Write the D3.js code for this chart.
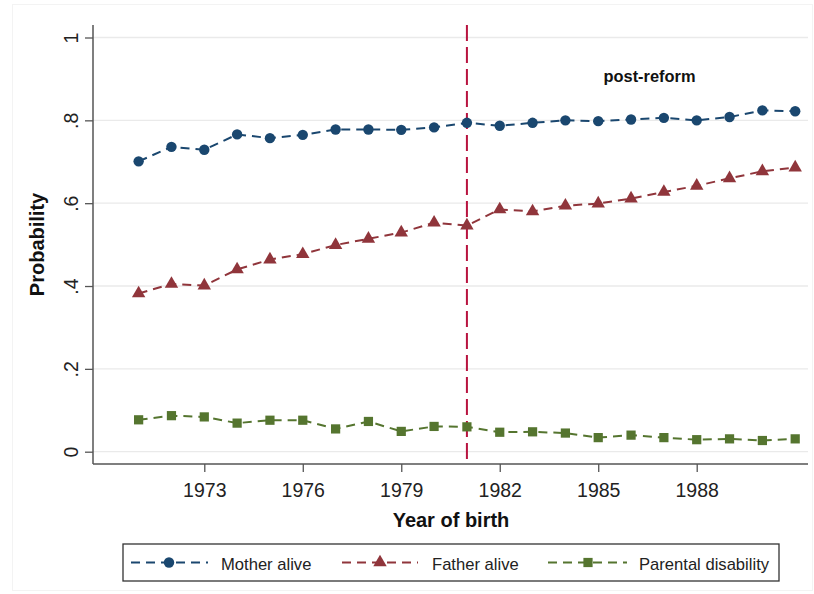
<!DOCTYPE html>
<html>
<head>
<meta charset="utf-8">
<script src="https://cdn.jsdelivr.net/npm/d3@7"></script>
<style>
  html, body { margin: 0; padding: 0; background: #fff; }
  svg { display: block; font-family: "Liberation Sans", Arial, sans-serif; }
</style>
</head>
<body>
<svg id="chart" width="814" height="594"></svg>
<script>
// ---- data ----
const years = [1971,1972,1973,1974,1975,1976,1977,1978,1979,1980,1981,1982,1983,1984,1985,1986,1987,1988,1989,1990,1991];
const motherAlive = [0.701,0.736,0.729,0.766,0.757,0.765,0.778,0.778,0.777,0.783,0.794,0.787,0.794,0.800,0.798,0.802,0.806,0.800,0.808,0.824,0.822];
const fatherAlive = [0.382,0.405,0.401,0.440,0.464,0.477,0.499,0.514,0.529,0.553,0.546,0.585,0.580,0.594,0.599,0.611,0.627,0.642,0.660,0.677,0.686];
const parentalDisability = [0.077,0.087,0.084,0.069,0.076,0.076,0.055,0.073,0.049,0.061,0.060,0.047,0.048,0.045,0.034,0.040,0.034,0.029,0.031,0.027,0.031];
const seriesNames = ["Mother alive","Father alive","Parental disability"];
const xTicks = [1973,1976,1979,1982,1985,1988];
const yTicks = [0,0.2,0.4,0.6,0.8,1];
const yTickLabels = ["0",".2",".4",".6",".8","1"];
const reformYear = 1981;
const annotation = "post-reform";
const xTitle = "Year of birth";
const yTitle = "Probability";

// ---- layout ----
const svg = d3.select("#chart");
const plot = {left: 93, right: 808, top: 25, bottom: 464};
const x = d3.scaleLinear().domain([1969.61, 1991.39]).range([plot.left, plot.right]);
const y = d3.scaleLinear().domain([0, 1]).range([451.7, 37.5]);

const colors = ["#1a476f", "#90353b", "#55752f"];
const symbols = [d3.symbolCircle, d3.symbolTriangle, d3.symbolSquare];
const symSizes = [85, 78, 85];
const dash = "9,6";

// outer faint frame
svg.append("rect").attr("x", 12.5).attr("y", 4.5).attr("width", 800).attr("height", 586)
  .attr("fill", "none").attr("stroke", "#f3f3f3").attr("stroke-width", 1);

// gridlines
svg.append("g").selectAll("line").data(yTicks).join("line")
  .attr("x1", plot.left).attr("x2", plot.right)
  .attr("y1", d => y(d)).attr("y2", d => y(d))
  .attr("stroke", "#eaeaea").attr("stroke-width", 1.3);

// y axis
const yAxis = svg.append("g").attr("transform", `translate(${plot.left},0)`)
  .call(d3.axisLeft(y).tickValues(yTicks).tickFormat((d, i) => yTickLabels[i]).tickSize(8).tickSizeOuter(0));
yAxis.select(".domain").attr("d", `M0,${plot.top}V${plot.bottom}`).attr("stroke", "#555").attr("stroke-width", 1.5);
yAxis.selectAll(".tick line").attr("stroke", "#555").attr("stroke-width", 1.3);
yAxis.selectAll(".tick text")
  .attr("x", null).attr("dy", null)
  .attr("transform", "translate(-15,0) rotate(-90)")
  .attr("text-anchor", "middle")
  .attr("font-size", 19.5).attr("fill", "#222").attr("font-family", "Liberation Sans, Arial, sans-serif");

// x axis
const xAxis = svg.append("g").attr("transform", `translate(0,${plot.bottom})`)
  .call(d3.axisBottom(x).tickValues(xTicks).tickFormat(d3.format("d")).tickSize(8).tickSizeOuter(0));
xAxis.select(".domain").attr("d", `M${plot.left},0H${plot.right}`).attr("stroke", "#555").attr("stroke-width", 1.5);
xAxis.selectAll(".tick line").attr("stroke", "#555").attr("stroke-width", 1.3);
xAxis.selectAll(".tick text")
  .attr("y", 32.7).attr("dy", null)
  .attr("font-size", 19.5).attr("fill", "#222").attr("font-family", "Liberation Sans, Arial, sans-serif");

// axis titles
svg.append("text").attr("x", 451).attr("y", 527).attr("text-anchor", "middle")
  .attr("font-size", 20).attr("font-weight", "bold").attr("fill", "#111").text(xTitle);
svg.append("text").attr("transform", `translate(44,${(plot.top + plot.bottom) / 2}) rotate(-90)`)
  .attr("text-anchor", "middle").attr("font-size", 20).attr("font-weight", "bold").attr("fill", "#111").text(yTitle);

// series
const allSeries = [motherAlive, fatherAlive, parentalDisability];
const line = d3.line().x((d, i) => x(years[i])).y(d => y(d));
allSeries.forEach((vals, k) => {
  svg.append("path").datum(vals).attr("d", line)
    .attr("fill", "none").attr("stroke", colors[k]).attr("stroke-width", 2)
    .attr("stroke-dasharray", dash);
});

// vertical reform line
svg.append("line").attr("x1", x(reformYear)).attr("x2", x(reformYear))
  .attr("y1", plot.top).attr("y2", plot.bottom)
  .attr("stroke", "#b8133f").attr("stroke-width", 2).attr("stroke-dasharray", "16,6");

// markers
allSeries.forEach((vals, k) => {
  svg.append("g").selectAll("path").data(vals).join("path")
    .attr("transform", (d, i) => `translate(${x(years[i])},${y(d)})`)
    .attr("d", d3.symbol().type(symbols[k]).size(symSizes[k]))
    .attr("fill", colors[k]);
});

// annotation
svg.append("text").attr("x", 649.5).attr("y", 82).attr("text-anchor", "middle")
  .attr("font-size", 16.4).attr("font-weight", "bold").attr("fill", "#111").text(annotation);

// legend
const legend = svg.append("g");
legend.append("rect").attr("x", 123).attr("y", 544).attr("width", 656).attr("height", 37)
  .attr("fill", "#fff").attr("stroke", "#333").attr("stroke-width", 1.3);
const legItems = [
  {lx1: 131, lx2: 208, mx: 169, tx: 221},
  {lx1: 342, lx2: 418, mx: 380, tx: 432},
  {lx1: 548, lx2: 627, mx: 588, tx: 639}
];
legItems.forEach((it, k) => {
  legend.append("line").attr("x1", it.lx1).attr("x2", it.lx2).attr("y1", 562.5).attr("y2", 562.5)
    .attr("stroke", colors[k]).attr("stroke-width", 2).attr("stroke-dasharray", dash);
  legend.append("path").attr("transform", `translate(${it.mx},562.5)`)
    .attr("d", d3.symbol().type(symbols[k]).size(symSizes[k]))
    .attr("fill", colors[k]);
  legend.append("text").attr("x", it.tx).attr("y", 569.5).attr("font-size", 16.6)
    .attr("fill", "#222").text(seriesNames[k]);
});
</script>
</body>
</html>
